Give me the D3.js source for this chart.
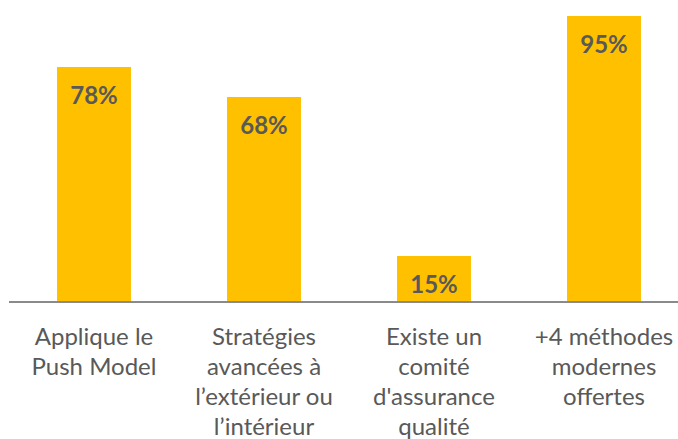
<!DOCTYPE html>
<html>
<head>
<meta charset="utf-8">
<script src="https://cdn.jsdelivr.net/npm/d3@7"></script>
<style>
  body { margin: 0; background: #fff; }
  svg { display: block; font-family: Lato, "Liberation Sans", sans-serif; }
</style>
</head>
<body>
<svg id="chart" width="678" height="439"></svg>
<script>
// categories, one array of lines per bar
const categories = [
    ['Applique le', 'Push Model'],
    ['Stratégies', 'avancées à', 'l\u2019extérieur ou', 'l\u2019intérieur'],
    ['Existe un', 'comité', 'd\'assurance', 'qualité'],
    ['+4 méthodes', 'modernes', 'offertes']
];
const values = [78, 68, 15, 95];

const svg = d3.select('#chart');

const baseY = 301;

// x scale: bands, the axis runs past the right edge like the original
const x = d3.scaleBand()
    .domain(d3.range(categories.length))
    .range([9, 689])
    .paddingInner(0.565)
    .paddingOuter(0.2825);

const y = d3.scaleLinear()
    .domain([0, 100])
    .range([baseY, 1]);

// bars
svg.selectAll('.bar')
    .data(values)
    .enter()
    .append('rect')
    .attr('class', 'bar')
    .attr('x', (d, i) => x(i))
    .attr('y', d => y(d))
    .attr('width', x.bandwidth())
    .attr('height', d => baseY - y(d))
    .attr('fill', '#FFC000');

// value labels inside the bars
svg.selectAll('.val')
    .data(values)
    .enter()
    .append('text')
    .attr('class', 'val')
    .attr('x', (d, i) => x(i) + x.bandwidth() / 2)
    .attr('y', d => y(d) + 37)
    .attr('text-anchor', 'middle')
    .attr('font-size', 24)
    .attr('font-weight', 'bold')
    .attr('fill', '#595959')
    .text(d => d + '%');

// baseline
svg.append('line')
    .attr('x1', 9)
    .attr('x2', 678)
    .attr('y1', baseY + 1)
    .attr('y2', baseY + 1)
    .attr('stroke', '#8a8a8a')
    .attr('stroke-width', 2);

// category labels
const cat = svg.selectAll('.cat')
    .data(categories)
    .enter()
    .append('text')
    .attr('class', 'cat')
    .attr('text-anchor', 'middle')
    .attr('font-size', 24)
    .attr('fill', '#595959');

cat.selectAll('tspan')
    .data((d, i) => d.map(t => ({ t, i })))
    .enter()
    .append('tspan')
    .attr('x', d => x(d.i) + x.bandwidth() / 2)
    .attr('y', (d, j) => 345 + j * 30)
    .text(d => d.t);
</script>
</body>
</html>
